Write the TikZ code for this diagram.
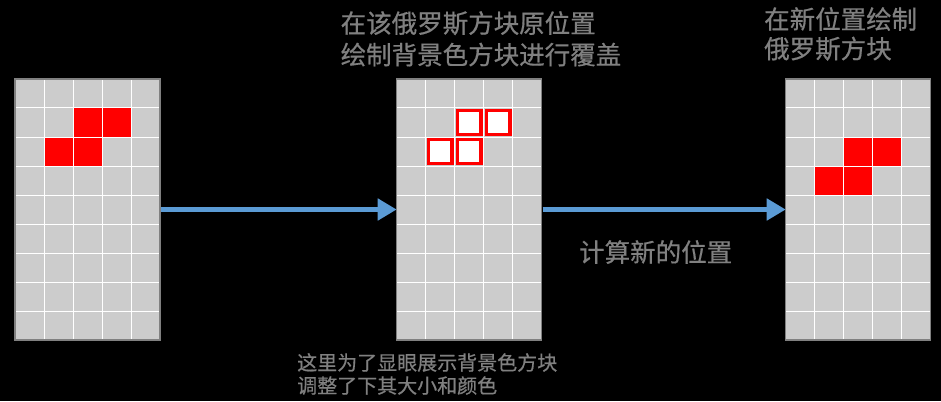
\documentclass[tikz,border=0pt]{standalone}
\usepackage{fontspec}
\setmainfont{Noto Sans CJK SC}[FakeBold=0.6]
\usetikzlibrary{arrows.meta}
\definecolor{textgray}{RGB}{128,128,128}
\definecolor{cellgray}{RGB}{204,204,204}
\definecolor{arrowblue}{RGB}{91,155,213}
\tikzstyle{board}=[fill=cellgray, minimum width=145pt, minimum height=261pt,
  inner sep=0pt, outer sep=0pt, anchor=north west]
\tikzstyle{frame}=[draw=textgray, line width=1.5pt]
\tikzstyle{gridline}=[draw=white, line width=1pt]
\tikzstyle{block}=[fill=red, minimum size=29pt, inner sep=0pt]
\tikzstyle{hollow}=[draw=red, fill=white, line width=3.3pt, minimum size=23.4pt,
  inner sep=0pt]
\tikzstyle{texto}=[text=textgray, align=left, anchor=north west, inner sep=0pt,
  font=\fontsize{25.5}{31.5}\selectfont]
\tikzstyle{line}=[draw, line width=5pt, color=arrowblue, shorten <=1pt,
  -{Triangle[length=19pt,width=21pt]}]
\newcommand{\board}[1]{node (#1) [board] {}}
\newcommand{\cell}[4]{%
  \node (#1#2#3) [#4] at ([xshift=#2*29pt+14.5pt,yshift=-#3*29pt-14.5pt]#1.north west) {};}
\newcommand{\gridlines}[1]{%
  \foreach \c in {1,...,4}
    \path [gridline] ([xshift=\c*29pt]#1.north west) -- ([xshift=\c*29pt]#1.south west);
  \foreach \r in {1,...,8}
    \path [gridline] ([yshift=-\r*29pt]#1.north west) -- ([yshift=-\r*29pt]#1.north east);
  % frame of the board
  \path [frame] (#1.north west) rectangle (#1.south east);}

\begin{document}
\begin{tikzpicture}[x=1pt,y=-1pt]

  % black page
  \path [fill=black] (0,0) rectangle (941,401);
  \useasboundingbox (0,0) rectangle (941,401);

  % Draw diagram elements
  \path (15,79) \board{OLDPOS};
  \path (OLDPOS.north east)+(236.7,0) \board{ERASE};
  \path (ERASE.north east)+(244,0) \board{NEWPOS};

  % tetromino at the old position
  \cell{OLDPOS}{2}{1}{block} \cell{OLDPOS}{3}{1}{block}
  \cell{OLDPOS}{1}{2}{block} \cell{OLDPOS}{2}{2}{block}
  % background colour blocks
  \cell{ERASE}{2}{1}{hollow} \cell{ERASE}{3}{1}{hollow}
  \cell{ERASE}{1}{2}{hollow} \cell{ERASE}{2}{2}{hollow}
  % tetromino at the new position
  \cell{NEWPOS}{2}{2}{block} \cell{NEWPOS}{3}{2}{block}
  \cell{NEWPOS}{1}{3}{block} \cell{NEWPOS}{2}{3}{block}

  \gridlines{OLDPOS}
  \gridlines{ERASE}
  \gridlines{NEWPOS}

  % labels
  \node (ERASETEXT) [texto] at (340.5,11) {在该俄罗斯方块原位置\\绘制背景色方块进行覆盖};
  \node (NEWTEXT) [texto, font=\fontsize{25.5}{29.5}\selectfont] at (764,7)
    {在新位置绘制\\俄罗斯方块};
  \node (CALCTEXT) [texto] at (579,240) {计算新的位置};
  \node (NOTETEXT) [texto, font=\fontsize{20}{23}\selectfont] at (297,353)
    {这里为了显眼展示背景色方块\\调整了下其大小和颜色};

  % Draw arrows between elements
  \path [line] (OLDPOS.east) -- (ERASE.west);
  \path [line] (ERASE.east) -- (NEWPOS.west);

\end{tikzpicture}
\end{document}
